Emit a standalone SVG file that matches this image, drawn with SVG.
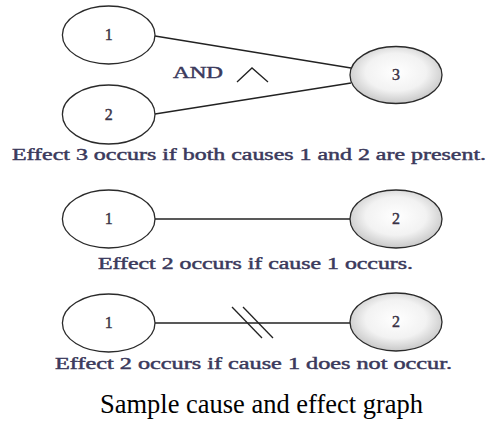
<svg xmlns="http://www.w3.org/2000/svg" width="494" height="421" viewBox="0 0 494 421">
<style>
.node{fill:#fff;stroke:#2a2a2a;stroke-width:1.3}
.eff{fill:url(#g);stroke:#2a2a2a;stroke-width:1.3}
.lbl{font-size:16px;fill:#3a3346;stroke:#3a3346;stroke-width:0.4;text-anchor:middle}
.cap{font-size:16px;fill:#3b3a5c;stroke:#3b3a5c;stroke-width:0.45}
.edge{stroke:#222;stroke-width:1.3;fill:none}
.title{font-size:27px;fill:#000}
</style>
<defs>
<radialGradient id="g" cx="50%" cy="45%" r="55%">
<stop offset="0" stop-color="#ffffff"/>
<stop offset="0.6" stop-color="#f2f2f2"/>
<stop offset="1" stop-color="#c8c8c8"/>
</radialGradient>
</defs>
<rect width="494" height="421" fill="#fff"/>
<g id="connectors">
<line class="edge" x1="155" y1="36" x2="351" y2="68"/>
<line class="edge" x1="155" y1="114" x2="351" y2="83"/>
<polyline class="edge" points="237,82 252,68 268,82"/>
<line class="edge" x1="155" y1="219" x2="350" y2="219"/>
<line class="edge" x1="155" y1="323" x2="350" y2="323"/>
<line class="edge" x1="232" y1="307" x2="262" y2="338"/>
<line class="edge" x1="243" y1="307" x2="273" y2="338"/>
</g>
<g font-family="Liberation Serif, Tinos, Times New Roman, DejaVu Serif, Noto Serif, FreeSerif, serif">
<text class="cap" x="173" y="78" textLength="50" lengthAdjust="spacingAndGlyphs">AND</text>
<g id="n1a"><ellipse class="node" cx="108.7" cy="35" rx="46.3" ry="29"/><text class="lbl" x="108.7" y="40">1</text></g>
<g id="n2a"><ellipse class="node" cx="108.7" cy="114.5" rx="46.3" ry="29.5"/><text class="lbl" x="108.7" y="119.5">2</text></g>
<g id="n3a"><ellipse class="eff" cx="396" cy="75" rx="46" ry="28.5"/><text class="lbl" x="396" y="80">3</text></g>
<text class="cap" x="12" y="160" textLength="474" lengthAdjust="spacingAndGlyphs">Effect 3 occurs if both causes 1 and 2 are present.</text>
<g id="n1b"><ellipse class="node" cx="108.7" cy="219" rx="46.3" ry="29"/><text class="lbl" x="108.7" y="224">1</text></g>
<g id="n2b"><ellipse class="eff" cx="396" cy="219" rx="46" ry="29"/><text class="lbl" x="396" y="224">2</text></g>
<text class="cap" x="98" y="269" textLength="315" lengthAdjust="spacingAndGlyphs">Effect 2 occurs if cause 1 occurs.</text>
<g id="n1c"><ellipse class="node" cx="108.7" cy="323" rx="46.3" ry="29"/><text class="lbl" x="108.7" y="328">1</text></g>
<g id="n2c"><ellipse class="eff" cx="396" cy="322" rx="46" ry="29"/><text class="lbl" x="396" y="327">2</text></g>
<text class="cap" x="55" y="369" textLength="397" lengthAdjust="spacingAndGlyphs">Effect 2 occurs if cause 1 does not occur.</text>
<text class="title" x="100" y="413" textLength="323" lengthAdjust="spacingAndGlyphs">Sample cause and effect graph</text>
</g>
</svg>
